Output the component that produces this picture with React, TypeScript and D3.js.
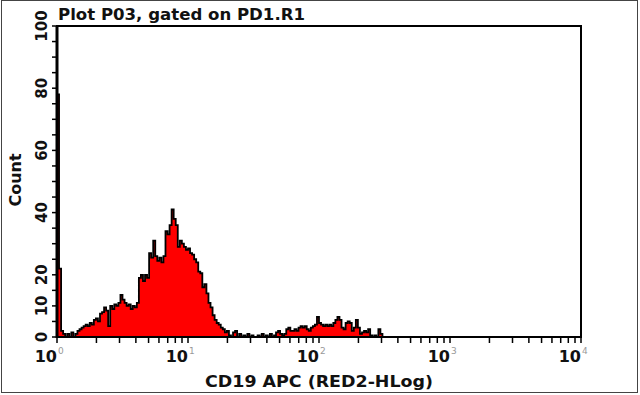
import React from "react";
import * as d3 from "d3";

const title = "Plot P03, gated on PD1.R1";
const xTitle = "CD19 APC (RED2-HLog)";
const yTitle = "Count";
const yTickLabels = [0, 10, 20, 40, 60, 80, 100];
const xDecades = [0, 1, 2, 3, 4];
const channelsTotal = 256;
// counts per channel (256 channels over 4 decades), channels beyond the list are 0
const counts = [
  78, 22, 2, 1, 0, 1, 0, 1.5, 0, 1,
  2, 2.5, 3, 3.5, 4, 3.5, 4.5, 4, 5.5, 6,
  5, 7.5, 8, 9.5, 8.5, 3.5, 10, 9, 10.5, 10,
  11, 13.5, 12, 11, 10, 10.5, 9, 10, 9.5, 11,
  19, 20, 18, 20, 19, 27, 25.5, 31, 26, 24.5,
  25.5, 24, 26, 34, 33, 36, 41, 38, 36, 29,
  31, 30, 29, 28, 28.5, 27, 26.5, 25, 24, 21,
  20.5, 16, 17, 14, 11, 9.5, 7, 5.5, 4.5, 4,
  3, 2.5, 1.5, 2, 0.5, 0, 1.5, 2, 0, 1,
  0, 0.5, 0, 1, 0, 0.5, 0, 0, 0.5, 0,
  1, 0, 0.5, 0, 1, 0, 0.5, 1.5, 2, 1,
  0.5, 1, 2.5, 3, 2, 2, 2.5, 2, 3, 3.5,
  3, 3.5, 2.5, 2, 3, 3.5, 4, 6.5, 4.5, 4,
  3.5, 4, 3.5, 4, 3.5, 4.5, 5.5, 6.5, 5.5, 3,
  2.5, 4.5, 5, 4.5, 2, 3, 5.5, 3, 1, 1.5,
  2, 1.5, 2.5, 0.5, 0, 0.5, 0, 2.5, 1, 0,
];

const W = 640;
const H = 395;
const box = { left: 57, top: 26, right: 581, bottom: 337 };
const FONT = "'DejaVu Sans', sans-serif";

export default function App() {
  const x = d3.scaleLog().domain([1, 1e4]).range([box.left, box.right]);
  const y = d3.scaleLinear().domain([0, 100]).range([box.bottom, box.top]);
  const chX = (i: number) => x(Math.pow(10, (i * 4) / channelsTotal));

  const pts: [number, number][] = [];
  counts.forEach((c, i) => pts.push([chX(i), c]));
  pts.push([chX(counts.length), 0]);
  const area = d3
    .area<[number, number]>()
    .x((d) => d[0])
    .y0(y(0))
    .y1((d) => y(d[1]))
    .curve(d3.curveStepAfter);
  const line = d3
    .line<[number, number]>()
    .x((d) => d[0])
    .y((d) => y(d[1]))
    .curve(d3.curveStepAfter);

  const yMinor = d3.range(0, 101, 5);
  const xMinor: number[] = [];
  for (let dcd = 0; dcd < 4; dcd++) {
    for (let k = 1; k <= 9; k++) xMinor.push(k * Math.pow(10, dcd));
  }
  xMinor.push(1e4);

  return (
    <svg
      width={W}
      height={H}
      style={{ position: "absolute", left: 0, top: 0, background: "#fff" }}
    >
      <rect x={1.5} y={0.5} width={636} height={392} fill="none" stroke="#444" strokeWidth={1} />
      <text
        x={box.left + 1}
        y={20}
        fontFamily={FONT}
        fontSize={16}
        fontWeight="bold"
        fill="#111"
        textLength={247}
        lengthAdjust="spacingAndGlyphs"
      >
        {title}
      </text>
      {/* histogram */}
      <path d={area(pts) || ""} fill="#ff0000" />
      <path d={line(pts) || ""} fill="none" stroke="#000" strokeWidth={1.8} />
      {/* box */}
      <rect
        x={box.left}
        y={box.top}
        width={box.right - box.left}
        height={box.bottom - box.top}
        fill="none"
        stroke="#000"
        strokeWidth={2}
      />
      <line x1={box.left} x2={box.left} y1={box.top} y2={box.bottom + 1} stroke="#000" strokeWidth={3} />
      {/* y ticks */}
      {yMinor.map((v) => (
        <line key={"yt" + v} x1={box.left - 5} x2={box.left} y1={y(v)} y2={y(v)} stroke="#000" strokeWidth={1.5} />
      ))}
      {yTickLabels.map((v) => (
        <text
          key={"yl" + v}
          transform={`translate(${47},${y(v)}) rotate(-90)`}
          textAnchor="middle"
          fontFamily={FONT}
          fontSize={15}
          fontWeight="bold"
          fill="#111"
        >
          {v}
        </text>
      ))}
      <text
        transform={`translate(${21},${180}) rotate(-90)`}
        textAnchor="middle"
        fontFamily={FONT}
        fontSize={16}
        fontWeight="bold"
        fill="#111"
      >
        {yTitle}
      </text>
      {/* x ticks */}
      {xMinor.map((v, i) => (
        <line key={"xt" + i} x1={x(v)} x2={x(v)} y1={box.bottom} y2={box.bottom + 6} stroke="#000" strokeWidth={1.5} />
      ))}
      {xDecades.map((dd) => (
        <g key={"xl" + dd}>
          <text x={x(Math.pow(10, dd))} y={362} textAnchor="end" fontFamily={FONT} fontSize={16} fontWeight="bold" fill="#111">
            10
          </text>
          <text x={x(Math.pow(10, dd)) + 1} y={354} fontFamily={FONT} fontSize={9} fill="#999">
            {dd}
          </text>
        </g>
      ))}
      <text
        x={(box.left + box.right) / 2}
        y={387}
        textAnchor="middle"
        fontFamily={FONT}
        fontSize={16}
        fontWeight="bold"
        fill="#111"
        textLength={228}
        lengthAdjust="spacingAndGlyphs"
      >
        {xTitle}
      </text>
    </svg>
  );
}
